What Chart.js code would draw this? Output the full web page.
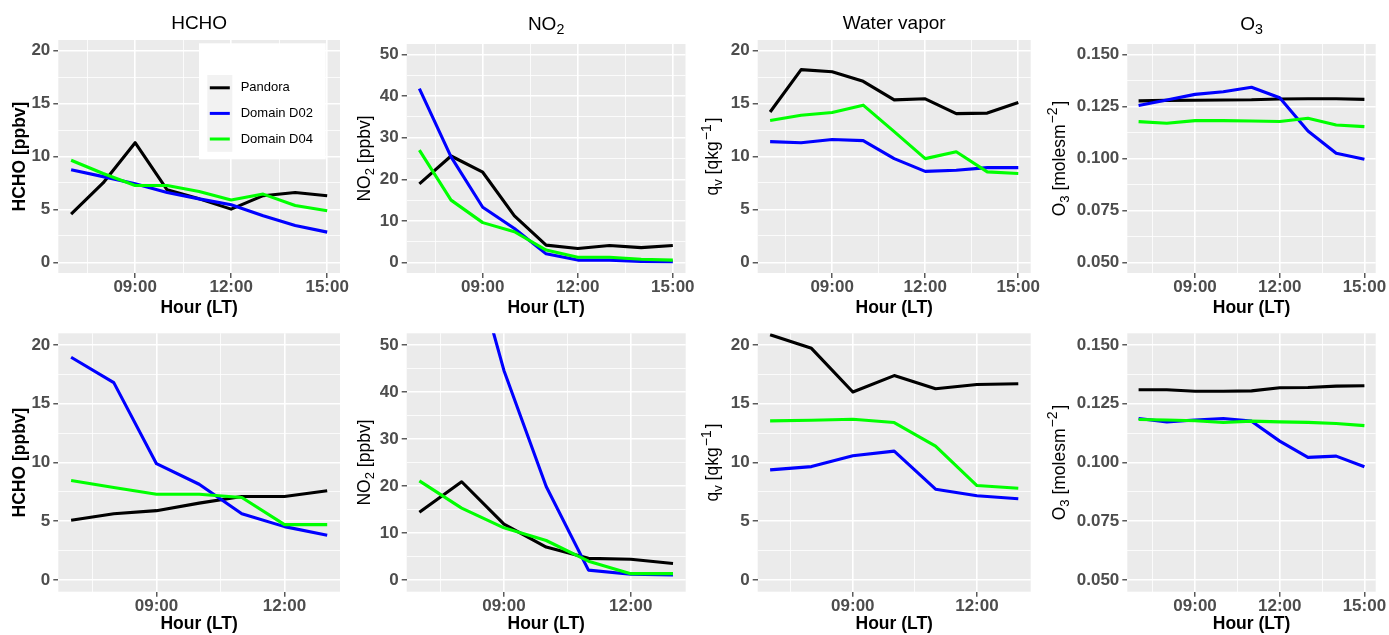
<!DOCTYPE html>
<html><head><meta charset="utf-8">
<script src="https://cdn.jsdelivr.net/npm/chart.js@4.4.1/dist/chart.umd.min.js"></script>
<style>
html,body{margin:0;padding:0;background:#fff;}
#wrap{position:relative;width:1389px;height:635px;overflow:hidden;background:#fff;}
#wrap canvas{position:absolute;left:0;top:0;}
</style></head><body><div id="wrap"></div>
<script>
// ---------------- data ----------------
const hoursFull = [7, 8, 9, 10, 11, 12, 13, 14, 15];
const hoursShort = [7, 8, 9, 10, 11, 12, 13];
const seriesNames = ['Pandora', 'Domain D02', 'Domain D04'];

const xMajorFull = [9, 12, 15];
const xLabelsFull = ['09:00', '12:00', '15:00'];
const xMinorFull = [7.5, 10.5, 13.5];
const xMajorShort = [9, 12];
const xLabelsShort = ['09:00', '12:00'];
const xMinorShort = [7.5, 10.5];

const yMajor20 = [0, 5, 10, 15, 20];
const yLabels20 = ['0', '5', '10', '15', '20'];
const yMinor20 = [2.5, 7.5, 12.5, 17.5];
const yMajor50 = [0, 10, 20, 30, 40, 50];
const yLabels50 = ['0', '10', '20', '30', '40', '50'];
const yMinor50 = [5, 15, 25, 35, 45];
const yMajorO3 = [0.05, 0.075, 0.1, 0.125, 0.15];
const yLabelsO3 = ['0.050', '0.075', '0.100', '0.125', '0.150'];
const yMinorO3 = [0.0625, 0.0875, 0.1125, 0.1375];

// top row
const hchoTopPandora = [4.56, 7.5, 11.3, 6.85, 6.0, 5.03, 6.3, 6.6, 6.3];
const hchoTopD02     = [8.74, 8.1, 7.42, 6.6, 6.0, 5.44, 4.4, 3.49, 2.86];
const hchoTopD04     = [9.65, 8.4, 7.26, 7.26, 6.7, 5.9, 6.45, 5.38, 4.87];

const no2TopPandora = [18.9, 25.6, 21.7, 11.2, 4.2, 3.4, 4.1, 3.6, 4.1];
const no2TopD02     = [41.8, 25.4, 13.3, 8.2, 2.1, 0.6, 0.6, 0.3, 0.2];
const no2TopD04     = [27.0, 15.0, 9.6, 7.4, 3.0, 1.3, 1.3, 0.8, 0.6];

const wvTopPandora = [14.2, 18.2, 18.0, 17.1, 15.35, 15.45, 14.05, 14.1, 15.1];
const wvTopD02     = [11.4, 11.3, 11.6, 11.5, 9.8, 8.6, 8.7, 8.95, 8.95];
const wvTopD04     = [13.4, 13.9, 14.15, 14.85, 12.35, 9.8, 10.45, 8.55, 8.4];

const o3TopPandora = [0.1277, 0.1279, 0.1280, 0.1281, 0.1282, 0.1286, 0.1287, 0.1287, 0.1284];
const o3TopD02     = [0.1255, 0.1281, 0.1308, 0.1321, 0.1342, 0.1292, 0.1132, 0.1025, 0.0996];
const o3TopD04     = [0.1177, 0.1169, 0.1182, 0.1182, 0.1180, 0.1178, 0.1193, 0.1161, 0.1153];

// bottom row
const hchoBotPandora = [5.08, 5.64, 5.9, 6.54, 7.1, 7.1, 7.6];
const hchoBotD02     = [18.96, 16.8, 9.9, 8.15, 5.64, 4.54, 3.8];
const hchoBotD04     = [8.46, 7.87, 7.3, 7.3, 7.02, 4.71, 4.71];

const no2BotPandora = [14.4, 20.9, 11.9, 7.0, 4.6, 4.4, 3.5];
const no2BotD02     = [96, 77, 44.6, 19.9, 2.1, 1.2, 1.06];
const no2BotD04     = [21.1, 15.3, 11.1, 8.4, 4.0, 1.34, 1.34];

const wvBotPandora = [20.87, 19.72, 16.0, 17.4, 16.28, 16.64, 16.7];
const wvBotD02     = [9.37, 9.65, 10.58, 10.97, 7.73, 7.17, 6.91];
const wvBotD04     = [13.54, 13.6, 13.68, 13.4, 11.4, 8.04, 7.81];

const o3BotPandora = [0.1310, 0.1310, 0.1303, 0.1303, 0.1305, 0.1318, 0.1319, 0.1325, 0.1327];
const o3BotD02     = [0.1187, 0.1173, 0.1181, 0.1187, 0.1176, 0.1091, 0.1022, 0.1027, 0.0982];
const o3BotD04     = [0.1183, 0.1181, 0.1178, 0.1170, 0.1176, 0.1173, 0.1171, 0.1166, 0.1157];

// ---------------- styling ----------------
const FONT = '"Liberation Sans", Arial, Helvetica, sans-serif';
const seriesColors = ['#000000', '#0000FF', '#00FF00'];
const W = 1389, H = 635;

const titleHCHO = [['HCHO', '']];
const titleNO2 = [['NO', ''], ['2', 'sub']];
const titleWV = [['Water vapor', '']];
const titleO3 = [['O', ''], ['3', 'sub']];
const yTitleHCHO = [['HCHO [ppbv]', '']];
const yTitleNO2 = [['NO', ''], ['2', 'sub'], [' [ppbv]', '']];
const yTitleWV = [['q', ''], ['v', 'sub'], [' [qkg', ''], ['\u22121', 'sup'], [']', '']];
const yTitleO3 = [['O', ''], ['3', 'sub'], [' [molesm', ''], ['\u22122', 'sup'], [']', '']];

function drawRich(ctx, segs, x, y, rot, size, weight, color) {
  ctx.save();
  ctx.translate(x, y);
  if (rot) ctx.rotate(rot);
  ctx.fillStyle = color;
  ctx.textBaseline = 'alphabetic';
  ctx.textAlign = 'left';
  const parts = segs.map(([t, mode]) => {
    const sz = mode === 'sub' ? size * 0.75 : mode === 'sup' ? size * 0.8 : size;
    const f = `${weight} ${sz}px ${FONT}`;
    ctx.font = f;
    const gapL = mode === 'sup' ? 1 : 0, gapR = mode === 'sup' ? 2 : 0;
    return { t, f, gapL, w: ctx.measureText(t).width + gapL + gapR, dy: mode === 'sub' ? size * 0.24 : mode === 'sup' ? -size * 0.42 : 0 };
  });
  const total = parts.reduce((a, p) => a + p.w, 0);
  let cx = -total / 2;
  parts.forEach(p => { ctx.font = p.f; ctx.fillText(p.t, cx + p.gapL, p.dy); cx += p.w; });
  ctx.restore();
}

const panelPlugin = {
  id: 'panelDeco',
  beforeDraw(chart, args, opts) {
    const { ctx, chartArea: a } = chart;
    ctx.save();
    ctx.fillStyle = '#EBEBEB';
    ctx.fillRect(a.left, a.top, a.right - a.left, a.bottom - a.top);
    ctx.restore();
  },
  afterDraw(chart, args, opts) {
    const { ctx, chartArea: a } = chart;
    if (opts.title) {
      drawRich(ctx, opts.title, (a.left + a.right) / 2, a.top - opts.titleOffset, 0, 19, 'normal', '#000');
    }
    if (opts.yTitle) {
      drawRich(ctx, opts.yTitle, a.left - opts.yTitleOffset, (a.top + a.bottom) / 2, -Math.PI / 2, 17.5, opts.yTitleWeight, '#000');
    }
    if (opts.legend) {
      const bx = a.left + 140.7, by = a.top + 3.3, bw = 126.7, bh = 116;
      ctx.save();
      ctx.fillStyle = '#FFFFFF';
      ctx.fillRect(bx, by, bw, bh);
      const kx = bx + 8.3, ky = by + 31.7, kw = 25, kh = 25.6;
      const ds = chart.data.datasets;
      ctx.fillStyle = '#F2F2F2';
      ctx.fillRect(kx, ky, kw, kh * ds.length);
      ds.forEach((d, i) => {
        const cy = ky + kh * i + kh / 2;
        ctx.strokeStyle = d.borderColor;
        ctx.lineWidth = 3;
        ctx.lineCap = 'butt';
        ctx.beginPath();
        ctx.moveTo(kx + 2.5, cy);
        ctx.lineTo(kx + kw - 2.5, cy);
        ctx.stroke();
        ctx.fillStyle = '#000';
        ctx.font = `normal 13px ${FONT}`;
        ctx.textBaseline = 'middle';
        ctx.textAlign = 'left';
        ctx.fillText(d.label, kx + kw + 8.4, cy);
      });
      ctx.restore();
    }
  }
};

function makePanel(p) {
  const canvas = document.createElement('canvas');
  canvas.width = W; canvas.height = H;
  canvas.style.width = W + 'px'; canvas.style.height = H + 'px';
  document.getElementById('wrap').appendChild(canvas);
  const isIn = (arr, v) => arr.some(m => Math.abs(m - v) < 1e-9);
  const datasets = p.series.map((vals, i) => ({
    label: seriesNames[i],
    data: vals.map((v, j) => ({ x: p.hours[j], y: v })),
    borderColor: seriesColors[i],
    backgroundColor: seriesColors[i],
    borderWidth: 3.1,
    pointRadius: 0,
    pointHoverRadius: 0,
    tension: 0,
    fill: false,
    borderJoinStyle: 'round',
    borderCapStyle: 'butt',
    order: 3 - i,
    clip: 0
  }));
  const yW = 52;
  new Chart(canvas, {
    type: 'line',
    data: { datasets },
    plugins: [panelPlugin],
    options: {
      responsive: false,
      animation: false,
      events: [],
      devicePixelRatio: 1,
      layout: {
        autoPadding: false,
        padding: { left: p.L - yW, top: p.T, right: W - p.R, bottom: H - p.B - p.xH }
      },
      plugins: {
        legend: { display: false },
        tooltip: { enabled: false },
        title: { display: false },
        panelDeco: { title: p.title, titleOffset: p.titleOffset, yTitle: p.yTitle, yTitleOffset: p.yTitleOffset, yTitleWeight: p.yTitleWeight, legend: p.legend }
      },
      scales: {
        x: {
          type: 'linear',
          min: p.xMin, max: p.xMax,
          bounds: 'data',
          afterFit: s => { s.height = p.xH; },
          afterBuildTicks: s => { s.ticks = p.xMajor.concat(p.xMinor).sort((a, b) => a - b).map(v => ({ value: v })); },
          border: { display: false },
          grid: {
            drawOnChartArea: true,
            drawTicks: true,
            tickLength: 5,
            color: '#FFFFFF',
            lineWidth: c => isIn(p.xMajor, c.tick.value) ? 1.6 : 0.8,
            tickColor: c => isIn(p.xMajor, c.tick.value) ? '#333333' : 'rgba(0,0,0,0)',
            tickWidth: 1.2
          },
          ticks: {
            autoSkip: false, maxRotation: 0, minRotation: 0,
            padding: -0.5,
            color: '#4D4D4D',
            font: { family: FONT, size: 17, weight: 'bold' },
            callback: v => { const i = p.xMajor.findIndex(m => Math.abs(m - v) < 1e-9); return i >= 0 ? p.xLabels[i] : ''; }
          },
          title: {
            display: true, text: 'Hour (LT)', color: '#000000',
            font: { family: FONT, size: 17.5, weight: 'bold' },
            padding: { top: 0, bottom: 0 }
          }
        },
        y: {
          type: 'linear',
          min: p.yMin, max: p.yMax,
          bounds: 'data',
          afterFit: s => { s.width = yW; },
          afterBuildTicks: s => { s.ticks = p.yMajor.concat(p.yMinor).sort((a, b) => a - b).map(v => ({ value: v })); },
          border: { display: false },
          grid: {
            drawOnChartArea: true,
            drawTicks: true,
            tickLength: 5,
            color: '#FFFFFF',
            lineWidth: c => isIn(p.yMajor, c.tick.value) ? 1.6 : 0.8,
            tickColor: c => isIn(p.yMajor, c.tick.value) ? '#333333' : 'rgba(0,0,0,0)',
            tickWidth: 1.2
          },
          ticks: {
            autoSkip: false,
            padding: 3,
            color: '#4D4D4D',
            font: { family: FONT, size: 17, weight: 'bold' },
            callback: v => { const i = p.yMajor.findIndex(m => Math.abs(m - v) < 1e-9); return i >= 0 ? p.yLabels[i] : ''; }
          },
          title: { display: false }
        }
      }
    }
  });
}

const topFull = { hours: hoursFull, xMin: 6.6, xMax: 15.4, xMajor: xMajorFull, xLabels: xLabelsFull, xMinor: xMinorFull, B: 273, xH: 45.8 };
const botShort = { hours: hoursShort, xMin: 6.7, xMax: 13.3, xMajor: xMajorShort, xLabels: xLabelsShort, xMinor: xMinorShort, T: 333.3, B: 591.7, xH: 42.8 };
const botFull = { hours: hoursFull, xMin: 6.6, xMax: 15.4, xMajor: xMajorFull, xLabels: xLabelsFull, xMinor: xMinorFull, T: 333.3, B: 591.7, xH: 42.8 };
const y20 = { yMin: -1, yMax: 21, yMajor: yMajor20, yLabels: yLabels20, yMinor: yMinor20 };
const y50 = { yMin: -2.5, yMax: 52.5, yMajor: yMajor50, yLabels: yLabels50, yMinor: yMinor50 };
const yO3 = { yMin: 0.045, yMax: 0.155, yMajor: yMajorO3, yLabels: yLabelsO3, yMinor: yMinorO3 };

const panels = [
  Object.assign({}, topFull, y20, { L: 58.3, T: 40, R: 340, series: [hchoTopPandora, hchoTopD02, hchoTopD04], title: titleHCHO, titleOffset: 11.5, yTitle: yTitleHCHO, yTitleOffset: 33.8, yTitleWeight: 'bold', legend: true }),
  Object.assign({}, topFull, y50, { L: 406.7, T: 44, R: 685.5, series: [no2TopPandora, no2TopD02, no2TopD04], title: titleNO2, titleOffset: 14.2, yTitle: yTitleNO2, yTitleOffset: 36.6, yTitleWeight: 'normal' }),
  Object.assign({}, topFull, y20, { L: 757.7, T: 40, R: 1030.7, series: [wvTopPandora, wvTopD02, wvTopD04], title: titleWV, titleOffset: 11.5, yTitle: yTitleWV, yTitleOffset: 39.5, yTitleWeight: 'normal' }),
  Object.assign({}, topFull, yO3, { L: 1127.3, T: 44, R: 1375.7, series: [o3TopPandora, o3TopD02, o3TopD04], title: titleO3, titleOffset: 14.2, yTitle: yTitleO3, yTitleOffset: 62.8, yTitleWeight: 'normal' }),
  Object.assign({}, botShort, y20, { L: 58.3, R: 340, series: [hchoBotPandora, hchoBotD02, hchoBotD04], yTitle: yTitleHCHO, yTitleOffset: 33.8, yTitleWeight: 'bold' }),
  Object.assign({}, botShort, y50, { L: 406.7, R: 685.7, series: [no2BotPandora, no2BotD02, no2BotD04], yTitle: yTitleNO2, yTitleOffset: 36.6, yTitleWeight: 'normal' }),
  Object.assign({}, botShort, y20, { L: 757.7, R: 1030.7, series: [wvBotPandora, wvBotD02, wvBotD04], yTitle: yTitleWV, yTitleOffset: 39.5, yTitleWeight: 'normal' }),
  Object.assign({}, botFull, yO3, { L: 1127.3, R: 1375.7, series: [o3BotPandora, o3BotD02, o3BotD04], yTitle: yTitleO3, yTitleOffset: 62.8, yTitleWeight: 'normal' })
];
panels.forEach(makePanel);
</script>
</body></html>
